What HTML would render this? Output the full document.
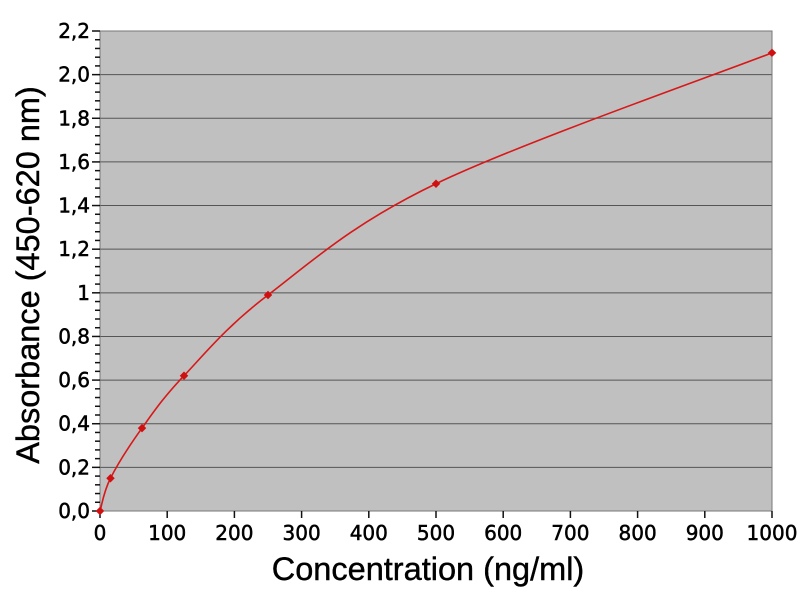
<!DOCTYPE html>
<html><head><meta charset="utf-8"><style>body{margin:0;background:#fff}svg{display:block}</style></head>
<body>
<svg id="s" width="800" height="600" xmlns="http://www.w3.org/2000/svg" font-family="DejaVu Sans, Liberation Sans, sans-serif">
<rect x="100" y="31" width="672" height="480" fill="#c0c0c0"/>
<g id="grid" stroke="#555" stroke-width="1"></g>
<rect x="100" y="31" width="672" height="480" fill="none" stroke="#777"/>
<g id="ticks" stroke="#111" stroke-width="1.5"></g>
<g id="lab" font-size="20" fill="#000" stroke="#000" stroke-width="0.5"></g>
<path id="curve" fill="none" stroke="#d81818" stroke-width="1.6"/>
<g id="pts" fill="#d01010"></g>
<text x="428" y="580" font-size="32.5" text-anchor="middle" font-family="Liberation Sans, sans-serif" stroke="#000" stroke-width="0.4">Concentration (ng/ml)</text>
<text transform="translate(39,275) rotate(-90)" font-size="32.5" text-anchor="middle" font-family="Liberation Sans, sans-serif" stroke="#000" stroke-width="0.4">Absorbance (450-620 nm)</text>
</svg>
<script>
const NS="http://www.w3.org/2000/svg";
function el(p,t,a,txt){const e=document.createElementNS(NS,t);for(const k in a)e.setAttribute(k,a[k]);if(txt!=null)e.textContent=txt;document.getElementById(p).appendChild(e);}
const X=v=>100+v*0.672, Y=v=>511-v*480/2.2;
for(let i=1;i<=10;i++){const y=Y(i*0.2);el('grid','line',{x1:100,x2:772,y1:y,y2:y});}
for(let i=0;i<=55;i++){const y=Y(i*0.04);const maj=i%5==0;el('ticks','line',{x1:maj?92:95,x2:100,y1:y,y2:y});}
for(let i=0;i<=11;i++){const v=i*0.2;let s=(i==5)?'1':v.toFixed(1).replace('.',',');el('lab','text',{x:90,y:Y(v)+7,'text-anchor':'end'},s);}
for(let i=0;i<=10;i++){const x=X(i*100);el('ticks','line',{x1:x,x2:x,y1:511,y2:518});el('lab','text',{x:x,y:540,'text-anchor':'middle'},String(i*100));}
const P=[[0,0],[15.6,0.15],[62.5,0.38],[125,0.62],[250,0.99],[500,1.5],[1000,2.1]].map(p=>[X(p[0]),Y(p[1])]);
let d=`M${P[0][0]},${P[0][1]}`;
for(let i=0;i<P.length-1;i++){const p0=P[Math.max(0,i-1)],p1=P[i],p2=P[i+1],p3=P[Math.min(P.length-1,i+2)];
const t=1/6;d+=` C${p1[0]+(p2[0]-p0[0])*t},${p1[1]+(p2[1]-p0[1])*t} ${p2[0]-(p3[0]-p1[0])*t},${p2[1]-(p3[1]-p1[1])*t} ${p2[0]},${p2[1]}`;}
document.getElementById('curve').setAttribute('d',d);
P.forEach(p=>el('pts','rect',{x:p[0]-3,y:p[1]-3,width:6,height:6,transform:`rotate(45 ${p[0]} ${p[1]})`}));
</script>
</body></html>
